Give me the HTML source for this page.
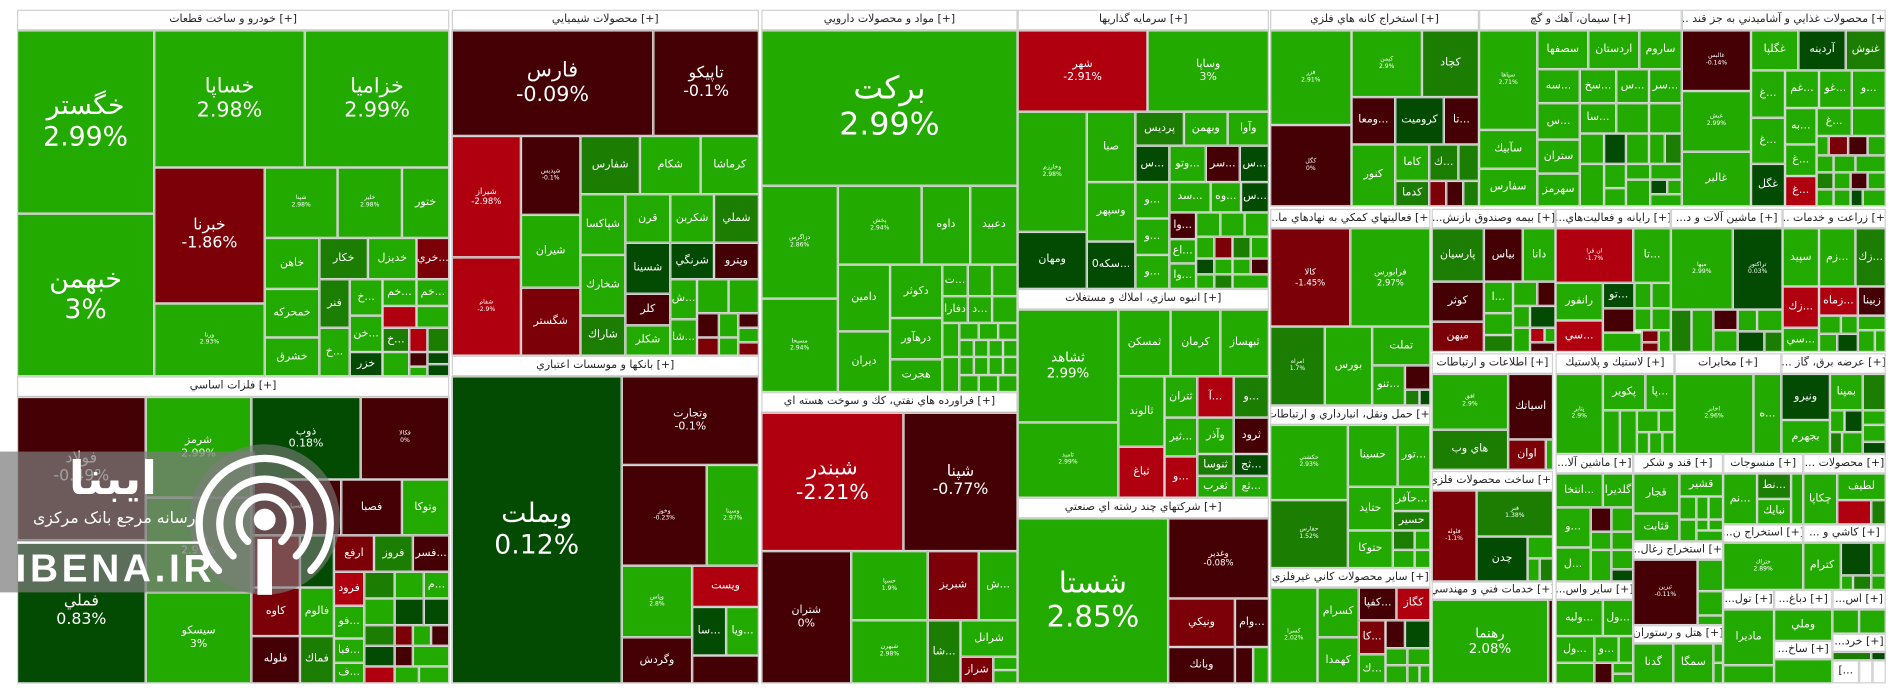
<!DOCTYPE html>
<html><head><meta charset="utf-8">
<style>
html,body{margin:0;padding:0;background:#fff;}
#w{position:absolute;left:0;top:0;width:1568px;height:575px;transform:scale(1.21429,1.21391);transform-origin:0 0;overflow:hidden;background:#fff;font-family:"DejaVu Sans","Liberation Sans",sans-serif;}
.c{position:absolute;box-sizing:border-box;border:1px solid #d6d6d6;color:#fff;display:flex;align-items:center;justify-content:center;text-align:center;overflow:hidden;font-size:9px;line-height:1.15;white-space:nowrap;}
.h{background:#fff;color:#222;font-size:9px;border-color:#d0d0d0;}
.g{background:#22aa00}.m{background:#1b7d02}.d{background:#034a02}.r{background:#b0000f}.dr{background:#7c0008}.k{background:#450005}
.t{font-size:5px}.b1{font-size:22px}.b2{font-size:17px}.b3{font-size:13px}.b4{font-size:11px}
</style></head><body><div id="w">
<!-- group 1 -->
<div class="c h" style="left:14px;top:8px;width:356px;height:17px">خودرو و ساخت قطعات [+]</div>
<div class="c g b1" style="left:14px;top:25px;width:113px;height:151px">خگستر<br>2.99%</div>
<div class="c g b1" style="left:14px;top:176px;width:113px;height:134px">خبهمن<br>3%</div>
<div class="c g b2" style="left:127px;top:25px;width:124px;height:113px">خساپا<br>2.98%</div>
<div class="c g b2" style="left:251px;top:25px;width:119px;height:113px">خزامیا<br>2.99%</div>
<div class="c dr b3" style="left:127px;top:138px;width:91px;height:112px">خبرنا<br>-1.86%</div>
<div class="c g t" style="left:127px;top:250px;width:91px;height:60px">ورنا<br>2.93%</div>
<div class="c g t" style="left:218px;top:138px;width:60px;height:58px">شپنا<br>2.98%</div>
<div class="c g t" style="left:278px;top:138px;width:53px;height:58px">خلیر<br>2.98%</div>
<div class="c g" style="left:331px;top:138px;width:39px;height:58px">ختور</div>
<div class="c g" style="left:218px;top:196px;width:45px;height:42px">خاهن</div>
<div class="c m" style="left:263px;top:196px;width:40px;height:34px">خكار</div>
<div class="c g" style="left:303px;top:196px;width:40px;height:34px">خديزل</div>
<div class="c dr" style="left:343px;top:196px;width:27px;height:34px">خري...</div>
<div class="c g" style="left:218px;top:238px;width:45px;height:40px">خمحركه</div>
<div class="c g" style="left:218px;top:278px;width:45px;height:32px">خشرق</div>
<div class="c m" style="left:263px;top:230px;width:25px;height:40px">فنر</div>
<div class="c g" style="left:288px;top:230px;width:27px;height:30px">خ...</div>
<div class="c g" style="left:315px;top:230px;width:28px;height:22px">خم...</div>
<div class="c g" style="left:343px;top:230px;width:27px;height:22px">خم...</div>
<div class="c r" style="left:315px;top:252px;width:28px;height:18px"></div>
<div class="c g" style="left:343px;top:252px;width:27px;height:18px"></div>
<div class="c g" style="left:263px;top:270px;width:25px;height:40px">خ...</div>
<div class="c g" style="left:288px;top:260px;width:27px;height:30px">خن...</div>
<div class="c d" style="left:288px;top:290px;width:27px;height:20px">خزر</div>
<div class="c m" style="left:315px;top:270px;width:22px;height:20px">خ...</div>
<div class="c r" style="left:337px;top:270px;width:15px;height:20px"></div>
<div class="c m" style="left:352px;top:270px;width:18px;height:20px"></div>
<div class="c g" style="left:315px;top:290px;width:22px;height:20px"></div>
<div class="c k" style="left:337px;top:290px;width:15px;height:12px"></div>
<div class="c d" style="left:352px;top:290px;width:18px;height:10px"></div>
<div class="c g" style="left:337px;top:302px;width:15px;height:8px"></div>
<div class="c d" style="left:352px;top:300px;width:18px;height:10px"></div>
<!-- group 2 -->
<div class="c h" style="left:14px;top:310px;width:356px;height:17px">فلزات اساسي [+]</div>
<div class="c k b3" style="left:14px;top:327px;width:106px;height:118px">فولاد<br>-0.49%</div>
<div class="c d b3" style="left:14px;top:445px;width:106px;height:118px">فملي<br>0.83%</div>
<div class="c g" style="left:120px;top:327px;width:87px;height:83px">شرمز<br>2.99%</div>
<div class="c g" style="left:120px;top:410px;width:87px;height:78px">فجر<br>2.99%</div>
<div class="c g" style="left:120px;top:488px;width:87px;height:75px">سيسكو<br>3%</div>
<div class="c d" style="left:207px;top:327px;width:90px;height:68px">ذوب<br>0.18%</div>
<div class="c k t" style="left:297px;top:327px;width:73px;height:68px">فكالا<br>0%</div>
<div class="c k t" style="left:207px;top:395px;width:74px;height:46px">فسپا</div>
<div class="c k" style="left:281px;top:395px;width:50px;height:46px">فصبا</div>
<div class="c g" style="left:331px;top:395px;width:39px;height:46px">وتوكا</div>
<div class="c dr" style="left:207px;top:441px;width:40px;height:43px"></div>
<div class="c d" style="left:247px;top:441px;width:28px;height:43px"></div>
<div class="c dr" style="left:275px;top:441px;width:33px;height:30px">ارفع</div>
<div class="c m" style="left:308px;top:441px;width:32px;height:30px">فروز</div>
<div class="c k" style="left:340px;top:441px;width:30px;height:30px">فسر...</div>
<div class="c dr" style="left:207px;top:484px;width:40px;height:40px">كاوه</div>
<div class="c g" style="left:247px;top:484px;width:28px;height:40px">فالوم</div>
<div class="c k" style="left:207px;top:524px;width:40px;height:39px">فلوله</div>
<div class="c m" style="left:247px;top:524px;width:28px;height:39px">فماك</div>
<div class="c r" style="left:275px;top:471px;width:25px;height:28px">فرود</div>
<div class="c m" style="left:300px;top:471px;width:25px;height:22px"></div>
<div class="c g" style="left:325px;top:471px;width:24px;height:22px"></div>
<div class="c g" style="left:349px;top:471px;width:21px;height:22px">م...</div>
<div class="c g" style="left:275px;top:499px;width:25px;height:27px">فو...</div>
<div class="c g" style="left:300px;top:493px;width:25px;height:22px"></div>
<div class="c d" style="left:325px;top:493px;width:24px;height:22px"></div>
<div class="c d" style="left:349px;top:493px;width:21px;height:22px"></div>
<div class="c g" style="left:275px;top:526px;width:25px;height:20px">فبا...</div>
<div class="c m" style="left:300px;top:515px;width:25px;height:17px"></div>
<div class="c dr" style="left:325px;top:515px;width:15px;height:17px"></div>
<div class="c g" style="left:340px;top:515px;width:15px;height:17px"></div>
<div class="c k" style="left:355px;top:515px;width:15px;height:17px"></div>
<div class="c g" style="left:275px;top:546px;width:25px;height:17px">ف...</div>
<div class="c d" style="left:300px;top:532px;width:25px;height:17px"></div>
<div class="c k" style="left:325px;top:532px;width:15px;height:17px"></div>
<div class="c g" style="left:340px;top:532px;width:30px;height:17px"></div>
<div class="c r" style="left:300px;top:549px;width:25px;height:14px"></div>
<div class="c g" style="left:325px;top:549px;width:20px;height:14px"></div>
<div class="c g" style="left:345px;top:549px;width:25px;height:14px"></div>
<!-- group 3 -->
<div class="c h" style="left:372px;top:8px;width:253px;height:17px">محصولات شيميايي [+]</div>
<div class="c k b2" style="left:372px;top:25px;width:166px;height:87px">فارس<br>-0.09%</div>
<div class="c k b3" style="left:538px;top:25px;width:87px;height:87px">تاپيكو<br>-0.1%</div>
<div class="c r" style="left:372px;top:112px;width:57px;height:100px;font-size:7px">شيراز<br>-2.98%</div>
<div class="c r t" style="left:372px;top:212px;width:57px;height:81px">شفام<br>-2.9%</div>
<div class="c k t" style="left:429px;top:112px;width:49px;height:65px">شپديس<br>-0.1%</div>
<div class="c g" style="left:429px;top:177px;width:49px;height:60px">شيران</div>
<div class="c dr" style="left:429px;top:237px;width:49px;height:56px">شگستر</div>
<div class="c m" style="left:478px;top:112px;width:49px;height:48px">شفارس</div>
<div class="c g" style="left:527px;top:112px;width:50px;height:48px">شكام</div>
<div class="c g" style="left:577px;top:112px;width:48px;height:48px">كرماشا</div>
<div class="c g" style="left:478px;top:160px;width:37px;height:50px">شپاكسا</div>
<div class="c g" style="left:515px;top:160px;width:37px;height:40px">قرن</div>
<div class="c g" style="left:552px;top:160px;width:36px;height:40px">شكربن</div>
<div class="c m" style="left:588px;top:160px;width:37px;height:40px">شملي</div>
<div class="c g" style="left:478px;top:210px;width:37px;height:50px">شخارك</div>
<div class="c d" style="left:515px;top:200px;width:37px;height:42px">شسينا</div>
<div class="c d" style="left:552px;top:200px;width:36px;height:30px">شرنگي</div>
<div class="c k" style="left:588px;top:200px;width:37px;height:30px">وپترو</div>
<div class="c m" style="left:478px;top:260px;width:37px;height:33px">شاراك</div>
<div class="c k" style="left:515px;top:242px;width:37px;height:26px">كلر</div>
<div class="c g" style="left:515px;top:268px;width:37px;height:25px">شكلر</div>
<div class="c g" style="left:552px;top:230px;width:22px;height:33px">ش...</div>
<div class="c g" style="left:552px;top:263px;width:22px;height:30px">شا...</div>
<div class="c g" style="left:574px;top:230px;width:26px;height:28px"></div>
<div class="c g" style="left:600px;top:230px;width:25px;height:28px"></div>
<div class="c k" style="left:574px;top:258px;width:18px;height:20px"></div>
<div class="c g" style="left:592px;top:258px;width:16px;height:20px"></div>
<div class="c k" style="left:608px;top:258px;width:17px;height:12px"></div>
<div class="c g" style="left:608px;top:270px;width:17px;height:12px"></div>
<div class="c dr" style="left:574px;top:278px;width:18px;height:15px"></div>
<div class="c g" style="left:592px;top:278px;width:16px;height:15px"></div>
<div class="c dr" style="left:608px;top:282px;width:17px;height:11px"></div>
<!-- group 4 -->
<div class="c h" style="left:372px;top:293px;width:253px;height:17px">بانكها و موسسات اعتباري [+]</div>
<div class="c d b1" style="left:372px;top:310px;width:140px;height:253px">وبملت<br>0.12%</div>
<div class="c k" style="left:512px;top:310px;width:113px;height:73px">وتجارت<br>-0.1%</div>
<div class="c k t" style="left:512px;top:383px;width:70px;height:83px">وخوز<br>-0.23%</div>
<div class="c g t" style="left:582px;top:383px;width:43px;height:83px">وسينا<br>2.97%</div>
<div class="c g t" style="left:512px;top:466px;width:58px;height:59px">وپاس<br>2.8%</div>
<div class="c r" style="left:570px;top:466px;width:55px;height:34px">ويست</div>
<div class="c d" style="left:570px;top:500px;width:28px;height:40px">سا...</div>
<div class="c g" style="left:598px;top:500px;width:27px;height:40px">ويا...</div>
<div class="c k" style="left:512px;top:525px;width:58px;height:38px">وگردش</div>
<div class="c k" style="left:570px;top:540px;width:55px;height:23px"></div>
<!-- group 5 -->
<div class="c h" style="left:627px;top:8px;width:211px;height:17px">مواد و محصولات دارويي [+]</div>
<div class="c g" style="left:627px;top:25px;width:211px;height:128px;font-size:26px">بركت<br>2.99%</div>
<div class="c g t" style="left:627px;top:153px;width:63px;height:93px">دزاگرس<br>2.86%</div>
<div class="c g t" style="left:627px;top:246px;width:63px;height:77px">مسيحا<br>2.94%</div>
<div class="c g t" style="left:690px;top:153px;width:69px;height:65px">پخش<br>2.94%</div>
<div class="c g" style="left:759px;top:153px;width:40px;height:65px">داوه</div>
<div class="c g" style="left:799px;top:153px;width:39px;height:65px">دعبيد</div>
<div class="c g" style="left:690px;top:218px;width:43px;height:55px">دامين</div>
<div class="c g" style="left:690px;top:273px;width:43px;height:50px">ديران</div>
<div class="c g" style="left:733px;top:218px;width:43px;height:44px">دكوثر</div>
<div class="c g" style="left:733px;top:262px;width:43px;height:34px">درهآور</div>
<div class="c g" style="left:733px;top:296px;width:43px;height:27px">هجرت</div>
<div class="c g" style="left:776px;top:218px;width:21px;height:26px">ت...</div>
<div class="c g" style="left:797px;top:218px;width:20px;height:26px"></div>
<div class="c g" style="left:817px;top:218px;width:21px;height:26px"></div>
<div class="c g" style="left:776px;top:244px;width:21px;height:22px">دفارا</div>
<div class="c g" style="left:797px;top:244px;width:20px;height:22px">د...</div>
<div class="c g" style="left:817px;top:244px;width:21px;height:22px"></div>
<div class="c g" style="left:776px;top:266px;width:14px;height:28px"></div>
<div class="c g" style="left:790px;top:266px;width:16px;height:14px"></div>
<div class="c g" style="left:806px;top:266px;width:16px;height:14px"></div>
<div class="c g" style="left:822px;top:266px;width:16px;height:14px"></div>
<div class="c g" style="left:790px;top:280px;width:12px;height:14px"></div>
<div class="c g" style="left:802px;top:280px;width:12px;height:14px"></div>
<div class="c g" style="left:814px;top:280px;width:12px;height:14px"></div>
<div class="c g" style="left:826px;top:280px;width:12px;height:14px"></div>
<div class="c g" style="left:776px;top:294px;width:14px;height:29px"></div>
<div class="c g" style="left:790px;top:294px;width:12px;height:15px"></div>
<div class="c g" style="left:802px;top:294px;width:12px;height:15px"></div>
<div class="c g" style="left:814px;top:294px;width:12px;height:15px"></div>
<div class="c g" style="left:826px;top:294px;width:12px;height:15px"></div>
<div class="c g" style="left:790px;top:309px;width:16px;height:14px"></div>
<div class="c g" style="left:806px;top:309px;width:16px;height:14px"></div>
<div class="c g" style="left:822px;top:309px;width:16px;height:14px"></div>
<!-- group 6 -->
<div class="c h" style="left:627px;top:323px;width:211px;height:17px">فراورده هاي نفتي، كك و سوخت هسته اي [+]</div>
<div class="c r b2" style="left:627px;top:340px;width:117px;height:114px">شبندر<br>-2.21%</div>
<div class="c k b3" style="left:744px;top:340px;width:94px;height:114px">شپنا<br>-0.77%</div>
<div class="c k" style="left:627px;top:454px;width:74px;height:109px">شتران<br>0%</div>
<div class="c g t" style="left:701px;top:454px;width:63px;height:57px">حسپا<br>1.9%</div>
<div class="c g t" style="left:701px;top:511px;width:63px;height:52px">شبهرن<br>2.98%</div>
<div class="c dr" style="left:764px;top:454px;width:42px;height:57px">شبريز</div>
<div class="c g" style="left:806px;top:454px;width:32px;height:57px">ش...</div>
<div class="c m" style="left:764px;top:511px;width:27px;height:52px">شا...</div>
<div class="c g" style="left:791px;top:511px;width:47px;height:30px">شرانل</div>
<div class="c dr" style="left:791px;top:541px;width:27px;height:22px">شراز</div>
<div class="c g" style="left:818px;top:541px;width:20px;height:11px"></div>
<div class="c g" style="left:818px;top:552px;width:20px;height:11px"></div>
<!-- group 7 -->
<div class="c h" style="left:838px;top:8px;width:207px;height:17px">سرمايه گذاريها [+]</div>
<div class="c r" style="left:838px;top:25px;width:107px;height:67px">شهر<br>-2.91%</div>
<div class="c g" style="left:945px;top:25px;width:100px;height:67px">وساپا<br>3%</div>
<div class="c g t" style="left:838px;top:92px;width:57px;height:99px">وخارزم<br>2.98%</div>
<div class="c d" style="left:838px;top:191px;width:57px;height:47px">ومهان</div>
<div class="c g" style="left:895px;top:92px;width:40px;height:58px">صبا</div>
<div class="c g" style="left:895px;top:150px;width:40px;height:49px">وسپهر</div>
<div class="c d" style="left:895px;top:199px;width:40px;height:39px">0سكه...</div>
<div class="c m" style="left:935px;top:92px;width:40px;height:28px">پرديس</div>
<div class="c g" style="left:975px;top:92px;width:36px;height:28px">وبهمن</div>
<div class="c g" style="left:1011px;top:92px;width:34px;height:28px">وآوا</div>
<div class="c d" style="left:935px;top:120px;width:28px;height:30px">س...</div>
<div class="c g" style="left:963px;top:120px;width:30px;height:30px">وتو...</div>
<div class="c k" style="left:993px;top:120px;width:28px;height:30px">سر...</div>
<div class="c d" style="left:1021px;top:120px;width:24px;height:30px">س...</div>
<div class="c g" style="left:935px;top:150px;width:28px;height:30px">و...</div>
<div class="c g" style="left:963px;top:150px;width:34px;height:25px">سد...</div>
<div class="c g" style="left:997px;top:150px;width:25px;height:25px">وه...</div>
<div class="c d" style="left:1022px;top:150px;width:23px;height:25px">س...</div>
<div class="c g" style="left:935px;top:180px;width:28px;height:30px">و...</div>
<div class="c g" style="left:935px;top:210px;width:28px;height:28px">و...</div>
<div class="c k" style="left:963px;top:175px;width:22px;height:22px">وا...</div>
<div class="c g" style="left:963px;top:197px;width:22px;height:20px">اع...</div>
<div class="c g" style="left:963px;top:217px;width:22px;height:21px">وا...</div>
<div class="c g" style="left:985px;top:175px;width:20px;height:20px"></div>
<div class="c g" style="left:1005px;top:175px;width:20px;height:20px"></div>
<div class="c g" style="left:1025px;top:175px;width:20px;height:20px"></div>
<div class="c g" style="left:985px;top:195px;width:15px;height:18px"></div>
<div class="c dr" style="left:1000px;top:195px;width:15px;height:18px"></div>
<div class="c m" style="left:1015px;top:195px;width:15px;height:18px"></div>
<div class="c g" style="left:1030px;top:195px;width:15px;height:18px"></div>
<div class="c d" style="left:985px;top:213px;width:15px;height:13px"></div>
<div class="c g" style="left:1000px;top:213px;width:15px;height:13px"></div>
<div class="c g" style="left:1015px;top:213px;width:15px;height:13px"></div>
<div class="c k" style="left:1030px;top:213px;width:15px;height:13px"></div>
<div class="c g" style="left:985px;top:226px;width:15px;height:12px"></div>
<div class="c m" style="left:1000px;top:226px;width:15px;height:12px"></div>
<div class="c g" style="left:1015px;top:226px;width:30px;height:12px"></div>
<!-- group 8 -->
<div class="c h" style="left:838px;top:238px;width:207px;height:17px">انبوه سازي، املاك و مستغلات [+]</div>
<div class="c g b4" style="left:838px;top:255px;width:83px;height:93px">ثشاهد<br>2.99%</div>
<div class="c g t" style="left:838px;top:348px;width:83px;height:62px">ثامید<br>2.99%</div>
<div class="c g" style="left:921px;top:255px;width:43px;height:55px">ثمسكن</div>
<div class="c g" style="left:964px;top:255px;width:41px;height:55px">كرمان</div>
<div class="c g" style="left:1005px;top:255px;width:40px;height:55px">ثبهساز</div>
<div class="c g" style="left:921px;top:310px;width:38px;height:58px">ثالوند</div>
<div class="c r" style="left:921px;top:368px;width:38px;height:42px">ثباغ</div>
<div class="c g" style="left:959px;top:310px;width:27px;height:34px">ثتران</div>
<div class="c g" style="left:959px;top:344px;width:27px;height:32px">ثير...</div>
<div class="c r" style="left:959px;top:376px;width:27px;height:34px">و...</div>
<div class="c r" style="left:986px;top:310px;width:30px;height:34px">آ...</div>
<div class="c m" style="left:1016px;top:310px;width:29px;height:34px">و...</div>
<div class="c g" style="left:986px;top:344px;width:30px;height:30px">وآذر</div>
<div class="c k" style="left:1016px;top:344px;width:29px;height:30px">ثرود</div>
<div class="c m" style="left:986px;top:374px;width:30px;height:18px">ثنوسا</div>
<div class="c d" style="left:1016px;top:374px;width:29px;height:18px">ثج...</div>
<div class="c g" style="left:986px;top:392px;width:30px;height:18px">ثغرب</div>
<div class="c g" style="left:1016px;top:392px;width:29px;height:18px">ثع...</div>
<!-- group 9 -->
<div class="c h" style="left:838px;top:410px;width:207px;height:17px">شركتهاي چند رشته اي صنعتي [+]</div>
<div class="c g" style="left:838px;top:427px;width:124px;height:136px;font-size:24px">شستا<br>2.85%</div>
<div class="c k" style="left:962px;top:427px;width:83px;height:66px;font-size:7px">وغدير<br>-0.08%</div>
<div class="c dr" style="left:962px;top:493px;width:55px;height:40px">ونيكي</div>
<div class="c k" style="left:1017px;top:493px;width:28px;height:40px">وام...</div>
<div class="c k" style="left:962px;top:533px;width:55px;height:30px">وبانك</div>
<div class="c k" style="left:1017px;top:533px;width:15px;height:30px"></div>
<div class="c g" style="left:1032px;top:533px;width:13px;height:30px"></div>
<!-- group 10 -->
<div class="c h" style="left:1046px;top:8px;width:172px;height:17px">استخراج كانه هاي فلزي [+]</div>
<div class="c g t" style="left:1046px;top:25px;width:67px;height:78px">فزر<br>2.91%</div>
<div class="c k t" style="left:1046px;top:103px;width:67px;height:67px">كگل<br>0%</div>
<div class="c g t" style="left:1113px;top:25px;width:58px;height:55px">كيمن<br>2.9%</div>
<div class="c m" style="left:1171px;top:25px;width:47px;height:55px">كچاد</div>
<div class="c k" style="left:1113px;top:80px;width:36px;height:39px">ومعا...</div>
<div class="c d" style="left:1149px;top:80px;width:40px;height:39px">كروميت</div>
<div class="c k" style="left:1189px;top:80px;width:29px;height:39px">تا...</div>
<div class="c g" style="left:1113px;top:119px;width:36px;height:51px">كنور</div>
<div class="c g" style="left:1149px;top:119px;width:28px;height:30px">كاما</div>
<div class="c m" style="left:1177px;top:119px;width:24px;height:30px">ك...</div>
<div class="c m" style="left:1201px;top:119px;width:17px;height:30px"></div>
<div class="c m" style="left:1149px;top:149px;width:28px;height:21px">كدما</div>
<div class="c dr" style="left:1177px;top:149px;width:14px;height:21px"></div>
<div class="c k" style="left:1191px;top:149px;width:14px;height:21px"></div>
<div class="c m" style="left:1205px;top:149px;width:13px;height:21px"></div>
<!-- group 11 -->
<div class="c h" style="left:1218px;top:8px;width:167px;height:17px">سيمان، آهك و گچ [+]</div>
<div class="c g t" style="left:1218px;top:25px;width:48px;height:82px">سپاها<br>2.71%</div>
<div class="c g" style="left:1218px;top:107px;width:48px;height:32px">سآبيك</div>
<div class="c g" style="left:1218px;top:139px;width:48px;height:31px">سفارس</div>
<div class="c g" style="left:1266px;top:25px;width:42px;height:32px">سصفها</div>
<div class="c g" style="left:1308px;top:25px;width:42px;height:32px">اردستان</div>
<div class="c g" style="left:1350px;top:25px;width:35px;height:32px">ساروم</div>
<div class="c g" style="left:1266px;top:57px;width:35px;height:28px">سه...</div>
<div class="c g" style="left:1301px;top:57px;width:30px;height:28px">سخ...</div>
<div class="c g" style="left:1331px;top:57px;width:27px;height:28px">س...</div>
<div class="c g" style="left:1358px;top:57px;width:27px;height:28px">سر...</div>
<div class="c g" style="left:1266px;top:85px;width:35px;height:30px">س...</div>
<div class="c g" style="left:1301px;top:85px;width:30px;height:25px">سا...</div>
<div class="c g" style="left:1331px;top:85px;width:27px;height:25px"></div>
<div class="c g" style="left:1358px;top:85px;width:27px;height:25px"></div>
<div class="c g" style="left:1266px;top:115px;width:35px;height:28px">ستران</div>
<div class="c g" style="left:1301px;top:110px;width:20px;height:25px"></div>
<div class="c d" style="left:1321px;top:110px;width:18px;height:25px"></div>
<div class="c g" style="left:1339px;top:110px;width:19px;height:25px"></div>
<div class="c g" style="left:1358px;top:110px;width:13px;height:25px"></div>
<div class="c m" style="left:1371px;top:110px;width:14px;height:25px"></div>
<div class="c g" style="left:1266px;top:143px;width:35px;height:27px">سهرمز</div>
<div class="c g" style="left:1301px;top:135px;width:20px;height:35px"></div>
<div class="c g" style="left:1321px;top:135px;width:18px;height:20px"></div>
<div class="c g" style="left:1339px;top:135px;width:20px;height:13px"></div>
<div class="c g" style="left:1359px;top:135px;width:26px;height:13px"></div>
<div class="c g" style="left:1321px;top:155px;width:18px;height:15px"></div>
<div class="c g" style="left:1339px;top:148px;width:20px;height:22px"></div>
<div class="c d" style="left:1359px;top:148px;width:14px;height:12px"></div>
<div class="c g" style="left:1373px;top:148px;width:12px;height:12px"></div>
<div class="c g" style="left:1359px;top:160px;width:26px;height:10px"></div>
<!-- group 12 -->
<div class="c h" style="left:1385px;top:8px;width:168px;height:17px">... محصولات غذايي و آشاميدني به جز قند [+]</div>
<div class="c k t" style="left:1385px;top:25px;width:57px;height:50px">غالبس<br>-0.14%</div>
<div class="c g t" style="left:1385px;top:75px;width:57px;height:50px">غبش<br>2.99%</div>
<div class="c g" style="left:1385px;top:125px;width:57px;height:45px">غالبر</div>
<div class="c g" style="left:1442px;top:25px;width:39px;height:33px">غگلپا</div>
<div class="c d" style="left:1481px;top:25px;width:39px;height:33px">آردينه</div>
<div class="c m" style="left:1520px;top:25px;width:33px;height:33px">غنوش</div>
<div class="c g" style="left:1442px;top:58px;width:28px;height:39px">غ...</div>
<div class="c g" style="left:1442px;top:97px;width:28px;height:38px">غ...</div>
<div class="c d" style="left:1442px;top:135px;width:28px;height:35px">غگل</div>
<div class="c g" style="left:1470px;top:58px;width:28px;height:31px">غم...</div>
<div class="c g" style="left:1498px;top:58px;width:27px;height:31px">غو...</div>
<div class="c g" style="left:1525px;top:58px;width:28px;height:31px">و...</div>
<div class="c g" style="left:1470px;top:89px;width:26px;height:30px">به...</div>
<div class="c g" style="left:1496px;top:89px;width:29px;height:23px">غ...</div>
<div class="c g" style="left:1525px;top:89px;width:28px;height:23px"></div>
<div class="c g" style="left:1470px;top:119px;width:26px;height:26px">غ...</div>
<div class="c g" style="left:1496px;top:112px;width:10px;height:16px"></div>
<div class="c dr" style="left:1506px;top:112px;width:16px;height:16px"></div>
<div class="c k" style="left:1522px;top:112px;width:16px;height:16px"></div>
<div class="c g" style="left:1538px;top:112px;width:15px;height:16px"></div>
<div class="c g" style="left:1496px;top:128px;width:14px;height:14px"></div>
<div class="c g" style="left:1510px;top:128px;width:18px;height:14px"></div>
<div class="c g" style="left:1528px;top:128px;width:25px;height:14px"></div>
<div class="c r" style="left:1470px;top:145px;width:26px;height:25px">غ...</div>
<div class="c m" style="left:1496px;top:142px;width:14px;height:14px"></div>
<div class="c g" style="left:1510px;top:142px;width:14px;height:14px"></div>
<div class="c k" style="left:1524px;top:142px;width:14px;height:14px"></div>
<div class="c g" style="left:1538px;top:142px;width:15px;height:14px"></div>
<div class="c g" style="left:1496px;top:156px;width:14px;height:14px"></div>
<div class="c g" style="left:1510px;top:156px;width:14px;height:14px"></div>
<div class="c d" style="left:1524px;top:156px;width:10px;height:14px"></div>
<div class="c g" style="left:1534px;top:156px;width:19px;height:14px"></div>
<!-- group 13 -->
<div class="c h" style="left:1046px;top:172px;width:132px;height:16px">...فعاليتهاي كمكي به نهادهاي ما [+]</div>
<div class="c dr" style="left:1046px;top:188px;width:66px;height:81px;font-size:7px">كالا<br>-1.45%</div>
<div class="c g" style="left:1112px;top:188px;width:66px;height:81px;font-size:7px">فرابورس<br>2.97%</div>
<div class="c m t" style="left:1046px;top:269px;width:45px;height:65px">امراه<br>1.7%</div>
<div class="c g" style="left:1091px;top:269px;width:39px;height:65px">بورس</div>
<div class="c g" style="left:1130px;top:269px;width:48px;height:32px">تملت</div>
<div class="c g" style="left:1130px;top:301px;width:27px;height:33px">تنو...</div>
<div class="c k" style="left:1157px;top:301px;width:21px;height:20px"></div>
<div class="c m" style="left:1157px;top:321px;width:12px;height:13px"></div>
<div class="c d" style="left:1169px;top:321px;width:9px;height:13px"></div>
<!-- group 14 -->
<div class="c h" style="left:1046px;top:334px;width:132px;height:16px">حمل ونقل، انبارداري و ارتباطات [+]</div>
<div class="c g t" style="left:1046px;top:350px;width:64px;height:62px">حكشتي<br>2.93%</div>
<div class="c m t" style="left:1046px;top:412px;width:64px;height:56px">حفارس<br>1.52%</div>
<div class="c g" style="left:1110px;top:350px;width:41px;height:51px">حسينا</div>
<div class="c g" style="left:1151px;top:350px;width:27px;height:51px">تور...</div>
<div class="c g" style="left:1110px;top:401px;width:37px;height:36px">حتايد</div>
<div class="c g" style="left:1147px;top:401px;width:31px;height:20px">حآفر...</div>
<div class="c m" style="left:1147px;top:421px;width:31px;height:16px">حسير</div>
<div class="c g" style="left:1110px;top:437px;width:37px;height:31px">حتوكا</div>
<div class="c m" style="left:1147px;top:437px;width:18px;height:16px"></div>
<div class="c g" style="left:1165px;top:437px;width:13px;height:16px"></div>
<div class="c g" style="left:1147px;top:453px;width:18px;height:15px"></div>
<div class="c g" style="left:1165px;top:453px;width:13px;height:15px"></div>
<!-- group 15 -->
<div class="c h" style="left:1046px;top:468px;width:132px;height:16px">ساير محصولات كاني غيرفلزي [+]</div>
<div class="c g t" style="left:1046px;top:484px;width:39px;height:79px">كسرا<br>2.02%</div>
<div class="c g" style="left:1085px;top:484px;width:34px;height:41px">كسرام</div>
<div class="c g" style="left:1085px;top:525px;width:34px;height:38px">كهمدا</div>
<div class="c k" style="left:1119px;top:484px;width:31px;height:27px">كفپا...</div>
<div class="c r" style="left:1150px;top:484px;width:28px;height:27px">كگاز</div>
<div class="c dr" style="left:1119px;top:511px;width:22px;height:28px">كا...</div>
<div class="c k" style="left:1141px;top:511px;width:16px;height:23px"></div>
<div class="c d" style="left:1157px;top:511px;width:21px;height:23px"></div>
<div class="c g" style="left:1119px;top:539px;width:22px;height:24px">ك...</div>
<div class="c g" style="left:1141px;top:534px;width:18px;height:14px"></div>
<div class="c g" style="left:1159px;top:534px;width:19px;height:14px"></div>
<div class="c g" style="left:1141px;top:548px;width:18px;height:15px"></div>
<div class="c g" style="left:1159px;top:548px;width:10px;height:15px"></div>
<div class="c g" style="left:1169px;top:548px;width:9px;height:15px"></div>
<!-- group 19 -->
<div class="c h" style="left:1179px;top:172px;width:102px;height:16px">...بيمه وصندوق بازنش [+]</div>
<div class="c m" style="left:1179px;top:188px;width:43px;height:44px">پارسيان</div>
<div class="c k" style="left:1222px;top:188px;width:32px;height:44px">بياس</div>
<div class="c g" style="left:1254px;top:188px;width:27px;height:44px">دانا</div>
<div class="c k" style="left:1179px;top:232px;width:43px;height:33px">كوثر</div>
<div class="c dr" style="left:1179px;top:265px;width:43px;height:25px">ميهن</div>
<div class="c g" style="left:1222px;top:232px;width:24px;height:26px">ا...</div>
<div class="c g" style="left:1246px;top:232px;width:20px;height:20px"></div>
<div class="c k" style="left:1266px;top:232px;width:15px;height:20px"></div>
<div class="c g" style="left:1222px;top:258px;width:24px;height:18px"></div>
<div class="c g" style="left:1246px;top:252px;width:14px;height:18px"></div>
<div class="c d" style="left:1260px;top:252px;width:21px;height:18px"></div>
<div class="c m" style="left:1222px;top:276px;width:24px;height:14px"></div>
<div class="c g" style="left:1246px;top:270px;width:14px;height:20px"></div>
<div class="c r" style="left:1260px;top:270px;width:12px;height:12px"></div>
<div class="c g" style="left:1272px;top:270px;width:9px;height:12px"></div>
<div class="c k" style="left:1260px;top:282px;width:21px;height:8px"></div>
<!-- group 20 -->
<div class="c h" style="left:1281px;top:172px;width:95px;height:16px">...رايانه و فعاليت‌هاي [+]</div>
<div class="c r t" style="left:1281px;top:188px;width:64px;height:45px">ان فرا<br>-1.7%</div>
<div class="c g" style="left:1345px;top:188px;width:31px;height:45px">تا...</div>
<div class="c g" style="left:1281px;top:233px;width:39px;height:31px">رانفور</div>
<div class="c d" style="left:1320px;top:233px;width:26px;height:21px">تو...</div>
<div class="c g" style="left:1346px;top:233px;width:14px;height:21px"></div>
<div class="c g" style="left:1360px;top:233px;width:16px;height:21px"></div>
<div class="c k" style="left:1320px;top:254px;width:26px;height:20px"></div>
<div class="c g" style="left:1346px;top:254px;width:14px;height:18px"></div>
<div class="c g" style="left:1360px;top:254px;width:16px;height:18px"></div>
<div class="c r" style="left:1281px;top:264px;width:39px;height:26px">سي...</div>
<div class="c g" style="left:1320px;top:274px;width:32px;height:16px"></div>
<div class="c dr" style="left:1352px;top:272px;width:14px;height:10px"></div>
<div class="c dr" style="left:1352px;top:282px;width:14px;height:8px"></div>
<div class="c g" style="left:1366px;top:272px;width:10px;height:18px"></div>
<!-- group 21 -->
<div class="c h" style="left:1376px;top:172px;width:92px;height:16px">...ماشين آلات و د [+]</div>
<div class="c g t" style="left:1376px;top:188px;width:51px;height:67px">ميها<br>2.99%</div>
<div class="c d t" style="left:1427px;top:188px;width:41px;height:67px">تراكتور<br>0.03%</div>
<div class="c m" style="left:1376px;top:255px;width:17px;height:35px"></div>
<div class="c g" style="left:1393px;top:255px;width:18px;height:35px"></div>
<div class="c k" style="left:1411px;top:255px;width:20px;height:17px"></div>
<div class="c g" style="left:1431px;top:255px;width:16px;height:18px"></div>
<div class="c g" style="left:1447px;top:255px;width:21px;height:18px"></div>
<div class="c g" style="left:1411px;top:272px;width:20px;height:18px"></div>
<div class="c d" style="left:1431px;top:273px;width:22px;height:17px"></div>
<div class="c m" style="left:1453px;top:273px;width:15px;height:17px"></div>
<!-- group 22 -->
<div class="c h" style="left:1468px;top:172px;width:85px;height:16px">... زراعت و خدمات [+]</div>
<div class="c g" style="left:1468px;top:188px;width:30px;height:48px">سپيد</div>
<div class="c g" style="left:1498px;top:188px;width:30px;height:48px">زم...</div>
<div class="c m" style="left:1528px;top:188px;width:25px;height:48px">زك...</div>
<div class="c r" style="left:1468px;top:236px;width:30px;height:34px">زك...</div>
<div class="c r" style="left:1498px;top:236px;width:32px;height:24px">زماه...</div>
<div class="c k" style="left:1530px;top:236px;width:23px;height:24px">زبينا</div>
<div class="c g" style="left:1468px;top:270px;width:30px;height:20px">سي...</div>
<div class="c g" style="left:1498px;top:260px;width:18px;height:15px"></div>
<div class="c g" style="left:1516px;top:260px;width:14px;height:15px"></div>
<div class="c g" style="left:1530px;top:260px;width:23px;height:12px"></div>
<div class="c g" style="left:1498px;top:275px;width:15px;height:15px"></div>
<div class="c d" style="left:1513px;top:275px;width:17px;height:15px"></div>
<div class="c g" style="left:1530px;top:272px;width:14px;height:18px"></div>
<div class="c g" style="left:1544px;top:272px;width:9px;height:18px"></div>
<!-- group 16 -->
<div class="c h" style="left:1179px;top:291px;width:100px;height:17px">اطلاعات و ارتباطات [+]</div>
<div class="c g t" style="left:1179px;top:308px;width:63px;height:46px">افق<br>2.9%</div>
<div class="c m" style="left:1179px;top:354px;width:63px;height:33px">هاي وب</div>
<div class="c k" style="left:1242px;top:308px;width:37px;height:54px">اسياتك</div>
<div class="c dr" style="left:1242px;top:362px;width:31px;height:25px">اوان</div>
<div class="c g" style="left:1273px;top:362px;width:6px;height:25px"></div>
<!-- group 17 -->
<div class="c h" style="left:1179px;top:388px;width:100px;height:16px">ساخت محصولات فلزي [+]</div>
<div class="c dr t" style="left:1179px;top:404px;width:37px;height:75px">فلوله<br>-1.1%</div>
<div class="c m t" style="left:1216px;top:404px;width:63px;height:38px">فنر<br>1.38%</div>
<div class="c d" style="left:1216px;top:442px;width:42px;height:37px">چدن</div>
<div class="c g" style="left:1258px;top:442px;width:21px;height:18px"></div>
<div class="c g" style="left:1258px;top:460px;width:10px;height:19px"></div>
<div class="c m" style="left:1268px;top:460px;width:11px;height:19px"></div>
<!-- group 18 -->
<div class="c h" style="left:1179px;top:479px;width:100px;height:15px">خدمات فني و مهندسي [+]</div>
<div class="c g b4" style="left:1179px;top:494px;width:96px;height:69px">رهنما<br>2.08%</div>
<div class="c k" style="left:1275px;top:494px;width:4px;height:69px"></div>
<!-- group 23 -->
<div class="c h" style="left:1281px;top:291px;width:98px;height:17px">لاستيك و پلاستيك [+]</div>
<div class="c g t" style="left:1281px;top:308px;width:39px;height:66px">پتاير<br>2.9%</div>
<div class="c g" style="left:1320px;top:308px;width:35px;height:30px">پكوير</div>
<div class="c g" style="left:1355px;top:308px;width:24px;height:30px">پا...</div>
<div class="c g" style="left:1320px;top:338px;width:14px;height:36px"></div>
<div class="c g" style="left:1334px;top:338px;width:14px;height:36px"></div>
<div class="c g" style="left:1348px;top:338px;width:18px;height:18px"></div>
<div class="c g" style="left:1366px;top:338px;width:13px;height:18px"></div>
<div class="c g" style="left:1348px;top:356px;width:10px;height:18px"></div>
<div class="c g" style="left:1358px;top:356px;width:11px;height:18px"></div>
<div class="c g" style="left:1369px;top:356px;width:10px;height:18px"></div>
<!-- group 24 -->
<div class="c h" style="left:1379px;top:291px;width:88px;height:17px">مخابرات [+]</div>
<div class="c g t" style="left:1379px;top:308px;width:65px;height:66px">اخابر<br>2.96%</div>
<div class="c g" style="left:1444px;top:308px;width:23px;height:66px">ه...</div>
<!-- group 25 -->
<div class="c h" style="left:1467px;top:291px;width:86px;height:17px">... عرضه برق، گاز [+]</div>
<div class="c d" style="left:1467px;top:308px;width:40px;height:38px">ونيرو</div>
<div class="c g" style="left:1507px;top:308px;width:27px;height:30px">بمپنا</div>
<div class="c m" style="left:1534px;top:308px;width:19px;height:30px"></div>
<div class="c g" style="left:1467px;top:346px;width:40px;height:28px">بجهرم</div>
<div class="c g" style="left:1507px;top:338px;width:12px;height:18px"></div>
<div class="c d" style="left:1519px;top:338px;width:15px;height:18px"></div>
<div class="c g" style="left:1534px;top:338px;width:19px;height:12px"></div>
<div class="c m" style="left:1507px;top:356px;width:10px;height:18px"></div>
<div class="c g" style="left:1517px;top:356px;width:17px;height:18px"></div>
<div class="c g" style="left:1534px;top:350px;width:19px;height:14px"></div>
<div class="c d" style="left:1534px;top:364px;width:19px;height:10px"></div>
<!-- group 26 -->
<div class="c h" style="left:1281px;top:374px;width:64px;height:16px">...ماشين آلا [+]</div>
<div class="c g" style="left:1281px;top:390px;width:39px;height:28px">انتخا...</div>
<div class="c g" style="left:1320px;top:390px;width:25px;height:28px">گلديرا</div>
<div class="c g" style="left:1281px;top:418px;width:29px;height:33px">و...</div>
<div class="c k" style="left:1310px;top:418px;width:17px;height:20px"></div>
<div class="c g" style="left:1327px;top:418px;width:18px;height:20px"></div>
<div class="c g" style="left:1310px;top:438px;width:17px;height:15px"></div>
<div class="c g" style="left:1327px;top:438px;width:18px;height:15px"></div>
<div class="c g" style="left:1281px;top:451px;width:29px;height:28px">ل...</div>
<div class="c g" style="left:1310px;top:453px;width:17px;height:26px"></div>
<div class="c g" style="left:1327px;top:453px;width:18px;height:16px"></div>
<div class="c d" style="left:1327px;top:469px;width:18px;height:10px"></div>
<!-- group 27 -->
<div class="c h" style="left:1281px;top:479px;width:64px;height:15px">...ساير واس [+]</div>
<div class="c g" style="left:1281px;top:494px;width:39px;height:30px">ولبه...</div>
<div class="c g" style="left:1320px;top:494px;width:25px;height:30px">ول...</div>
<div class="c g" style="left:1281px;top:524px;width:32px;height:22px">ول...</div>
<div class="c g" style="left:1313px;top:524px;width:20px;height:22px">و...</div>
<div class="c g" style="left:1333px;top:524px;width:12px;height:22px"></div>
<div class="c g" style="left:1281px;top:546px;width:32px;height:17px"></div>
<div class="c k" style="left:1313px;top:546px;width:15px;height:17px"></div>
<div class="c g" style="left:1328px;top:546px;width:17px;height:9px"></div>
<div class="c g" style="left:1328px;top:555px;width:17px;height:8px"></div>
<!-- group 28 -->
<div class="c h" style="left:1345px;top:374px;width:74px;height:16px">قند و شكر [+]</div>
<div class="c g" style="left:1345px;top:390px;width:38px;height:33px">قجار</div>
<div class="c g" style="left:1383px;top:390px;width:36px;height:19px">قشير</div>
<div class="c g" style="left:1345px;top:423px;width:38px;height:23px">قثابت</div>
<div class="c g" style="left:1383px;top:409px;width:14px;height:19px"></div>
<div class="c g" style="left:1397px;top:409px;width:10px;height:19px"></div>
<div class="c g" style="left:1407px;top:409px;width:12px;height:19px"></div>
<div class="c g" style="left:1383px;top:428px;width:14px;height:18px"></div>
<div class="c g" style="left:1397px;top:428px;width:10px;height:9px"></div>
<div class="c g" style="left:1407px;top:428px;width:12px;height:9px"></div>
<div class="c g" style="left:1397px;top:437px;width:22px;height:9px"></div>
<!-- group 29 -->
<div class="c h" style="left:1345px;top:446px;width:74px;height:15px">...استخراج زغال [+]</div>
<div class="c k t" style="left:1345px;top:461px;width:53px;height:54px">ثبرين<br>-0.11%</div>
<div class="c g" style="left:1398px;top:461px;width:21px;height:26px"></div>
<div class="c g" style="left:1398px;top:487px;width:21px;height:20px"></div>
<div class="c g" style="left:1398px;top:507px;width:21px;height:8px"></div>
<!-- group 30 -->
<div class="c h" style="left:1345px;top:515px;width:74px;height:15px">هتل و رستوران [+]</div>
<div class="c g" style="left:1345px;top:530px;width:33px;height:33px">گدنا</div>
<div class="c g" style="left:1378px;top:530px;width:33px;height:33px">سمگا</div>
<div class="c g" style="left:1411px;top:530px;width:8px;height:16px"></div>
<div class="c g" style="left:1411px;top:546px;width:8px;height:17px"></div>
<!-- group 31 -->
<div class="c h" style="left:1419px;top:374px;width:66px;height:16px">منسوجات [+]</div>
<div class="c g" style="left:1419px;top:390px;width:28px;height:42px">نم...</div>
<div class="c m" style="left:1447px;top:390px;width:28px;height:21px">نط...</div>
<div class="c g" style="left:1447px;top:411px;width:28px;height:21px">نبايك</div>
<div class="c g" style="left:1475px;top:390px;width:10px;height:42px"></div>
<!-- group 32 -->
<div class="c h" style="left:1485px;top:374px;width:68px;height:16px">... محصولات [+]</div>
<div class="c g" style="left:1485px;top:390px;width:28px;height:42px">چكاپا</div>
<div class="c g" style="left:1513px;top:390px;width:40px;height:22px">لطيف</div>
<div class="c r" style="left:1513px;top:412px;width:28px;height:20px"></div>
<div class="c m" style="left:1541px;top:412px;width:12px;height:20px"></div>
<!-- group 33 -->
<div class="c h" style="left:1419px;top:432px;width:66px;height:15px">...استخراج ن [+]</div>
<div class="c g t" style="left:1419px;top:447px;width:66px;height:39px">ختراك<br>2.89%</div>
<!-- group 34 -->
<div class="c h" style="left:1485px;top:432px;width:68px;height:15px">... كاشي و [+]</div>
<div class="c g" style="left:1485px;top:447px;width:31px;height:39px">كترام</div>
<div class="c d" style="left:1516px;top:447px;width:25px;height:27px"></div>
<div class="c g" style="left:1541px;top:447px;width:12px;height:27px"></div>
<div class="c g" style="left:1516px;top:474px;width:10px;height:12px"></div>
<div class="c m" style="left:1526px;top:474px;width:15px;height:12px"></div>
<div class="c g" style="left:1541px;top:474px;width:12px;height:12px"></div>
<!-- group 35-37 -->
<div class="c h" style="left:1419px;top:486px;width:42px;height:16px">...تول [+]</div>
<div class="c g" style="left:1419px;top:502px;width:42px;height:46px">ماديرا</div>
<div class="c g" style="left:1419px;top:548px;width:42px;height:15px"></div>
<div class="c h" style="left:1461px;top:486px;width:48px;height:16px">...دباغ [+]</div>
<div class="c g" style="left:1461px;top:502px;width:48px;height:26px">وملي</div>
<div class="c h" style="left:1461px;top:528px;width:48px;height:15px">...ساخ [+]</div>
<div class="c g" style="left:1461px;top:543px;width:48px;height:20px"></div>
<div class="c h" style="left:1509px;top:486px;width:44px;height:16px">...اس [+]</div>
<div class="c g" style="left:1509px;top:502px;width:22px;height:20px"></div>
<div class="c g" style="left:1531px;top:502px;width:22px;height:20px"></div>
<div class="c h" style="left:1509px;top:522px;width:44px;height:15px">...خرد [+]</div>
<div class="c m" style="left:1509px;top:537px;width:32px;height:7px"></div>
<div class="c d" style="left:1541px;top:537px;width:12px;height:7px"></div>
<div class="c h" style="left:1509px;top:544px;width:22px;height:19px">[...</div>
<div class="c h" style="left:1531px;top:544px;width:11px;height:19px"></div>
<div class="c h" style="left:1542px;top:544px;width:11px;height:19px"></div>
<!-- watermark -->
<div style="position:absolute;left:0;top:372px;width:210px;height:116px;background:rgba(125,125,125,0.72)"></div>
<svg style="position:absolute;left:150px;top:360px" width="140" height="140" viewBox="0 0 140 140">
<circle cx="68" cy="68" r="62" fill="rgba(125,125,125,0.6)"/>
<g fill="none" stroke="#fff" stroke-width="6" stroke-linecap="round">
<path d="M30 110 A54 54 0 1 1 106 110"/>
<path d="M42 98 A37 37 0 1 1 94 98"/>
<path d="M54 86 A21 21 0 1 1 82 86"/>
</g>
<circle cx="68" cy="68" r="9" fill="#fff"/>
<rect x="62" y="84" width="12" height="46" fill="#fff"/>
</svg>
<div style="position:absolute;left:18px;top:372px;width:150px;text-align:center;color:#fff;font-size:38px;font-weight:bold;font-family:'DejaVu Sans',sans-serif;line-height:44px">ايبنا</div>
<div style="position:absolute;left:14px;top:420px;width:160px;text-align:center;color:#fff;font-size:13px;font-family:'DejaVu Sans',sans-serif">رسانه مرجع بانک مرکزی</div>
<div style="position:absolute;left:14px;top:446px;width:154px;height:2px;background:#fff"></div>
<div style="position:absolute;left:10px;top:450px;width:170px;text-align:center;color:#fff;font-size:32px;font-weight:bold;letter-spacing:3px;font-family:'Liberation Sans',sans-serif;line-height:36px">IBENA.IR</div>
</div></body></html>
